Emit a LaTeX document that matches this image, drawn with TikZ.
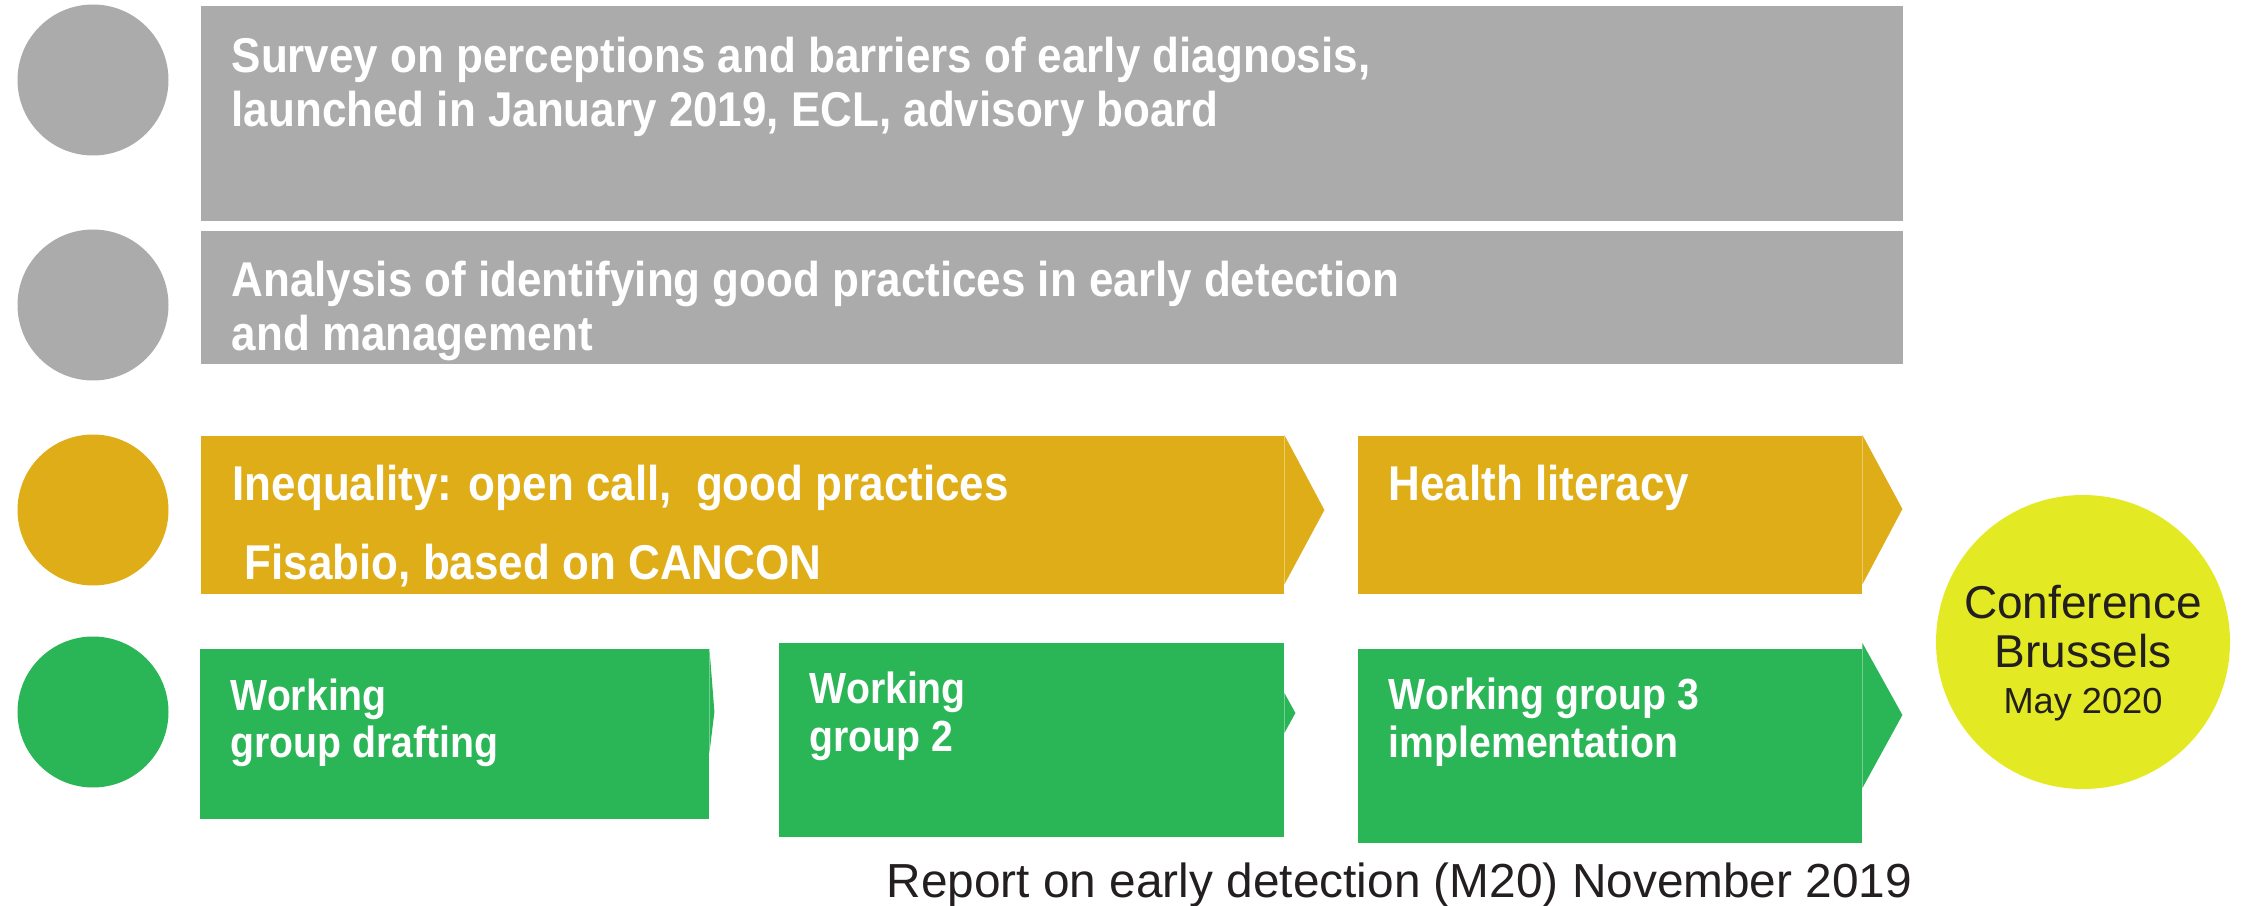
\documentclass[tikz,border=0pt]{standalone}
\usepackage{fontspec}
\setmainfont{Liberation Sans}[BoldFeatures={FakeStretch=0.9}]
\usetikzlibrary{calc}
\definecolor{greybar}{HTML}{ABABAB}
\definecolor{goldbar}{HTML}{DEAD18}
\definecolor{greenbar}{HTML}{2AB656}
\definecolor{confyellow}{HTML}{E3EA24}
\definecolor{darktext}{HTML}{231F20}

\begin{document}
\begin{tikzpicture}[x=0.1mm, y=-0.1mm,
        bar/.style ={rectangle, inner sep=0pt, anchor=north west},
        dot/.style ={circle, inner sep=0pt, minimum size=15.1mm},
        head/.style ={anchor=base west, inner sep=0pt, text=white,
                font=\fontsize{13.9}{16}\selectfont\bfseries},
        wg/.style ={anchor=base west, inner sep=0pt, text=white,
                font=\fontsize{12.4}{14}\selectfont\bfseries},
        conf/.style ={anchor=base, inner sep=0pt, text=darktext}]
    \useasboundingbox (0,0) rectangle (2241,906);

    % dots on the left
    \node[dot, fill=greybar] (d1) at (93,80) {};
    \node[dot, fill=greybar] (d2) at (93,305) {};
    \node[dot, fill=goldbar] (d3) at (93,510) {};
    \node[dot, fill=greenbar] (d4) at (93,712) {};

    % bars
    \node[bar, fill=greybar, minimum width=170.2mm, minimum height=21.5mm] (survey) at (200,5) {};
    \node[bar, fill=greybar, minimum width=170.2mm, minimum height=13.3mm] (analysis) at (200,230) {};
    \node[bar, fill=goldbar, minimum width=108.3mm, minimum height=15.8mm] (ineq) at (200,435) {};
    \node[bar, fill=goldbar, minimum width=50.4mm, minimum height=15.8mm] (health) at (1357,435) {};
    \node[bar, fill=greenbar, minimum width=50.9mm, minimum height=17mm] (wg1) at (199,648) {};
    \node[bar, fill=greenbar, minimum width=50.5mm, minimum height=19.4mm] (wg2) at (778,642) {};
    \node[bar, fill=greenbar, minimum width=50.4mm, minimum height=19.4mm] (wg3) at (1357,648) {};

    % arrow tips
    \fill[goldbar] (ineq.north east) -- ($(ineq.north east)+(40,75)$) -- ($(ineq.south east)+(0,-10)$) -- cycle;
    \fill[goldbar] (health.north east) -- ($(health.north east)+(40,74)$) -- ($(health.south east)+(0,-10)$) -- cycle;
    \fill[greenbar] (wg1.north east) -- ($(wg1.north east)+(5,64)$) -- ($(wg1.north east)+(0,105)$) -- cycle;
    \fill[greenbar] ($(wg2.north east)+(0,51)$) -- ($(wg2.north east)+(11,71)$) -- ($(wg2.north east)+(0,91)$) -- cycle;
    \fill[greenbar] ($(wg3.north east)+(0,-5)$) -- ($(wg3.north east)+(40,67)$) -- ($(wg3.north east)+(0,140)$) -- cycle;

    % conference
    \node[circle, fill=confyellow, inner sep=0pt, minimum size=29.4mm] (brussels) at (2083,642) {};

    % texts
    \node[head] (t1) at (231,73) {Survey on perceptions and barriers of early diagnosis,};
    \node[head] (t2) at (231,127) {launched in January 2019, ECL, advisory board};
    \node[head] (t3) at (231,297) {Analysis of identifying good practices in early detection};
    \node[head] (t4) at (231,351) {and management};
    \node[head] (t5) at (232,501) {Inequality: open call,\ \ good practices};
    \node[head] (t6) at (244,579) {Fisabio, based on CANCON};
    \node[head] (t7) at (1388,501) {Health literacy};
    \node[wg] (t8) at (230,710) {Working};
    \node[wg] (t9) at (230,757) {group drafting};
    \node[wg] (t10) at (809,703) {Working};
    \node[wg] (t11) at (809,751) {group 2};
    \node[wg] (t12) at (1388,709) {Working group 3};
    \node[wg] (t13) at (1388,757) {implementation};
    \node[conf, font=\fontsize{13.1}{15}\selectfont] (t14) at (2083,618) {Conference};
    \node[conf, font=\fontsize{13.1}{15}\selectfont] (t15) at (2083,667) {Brussels};
    \node[conf, font=\fontsize{10.3}{12}\selectfont] (t16) at (2083,713) {May 2020};
    \node[anchor=base west, inner sep=0pt, text=darktext, font=\fontsize{13.6}{16}\selectfont] (report) at (886,897) {Report on early detection (M20) November 2019};
\end{tikzpicture}
\end{document}
